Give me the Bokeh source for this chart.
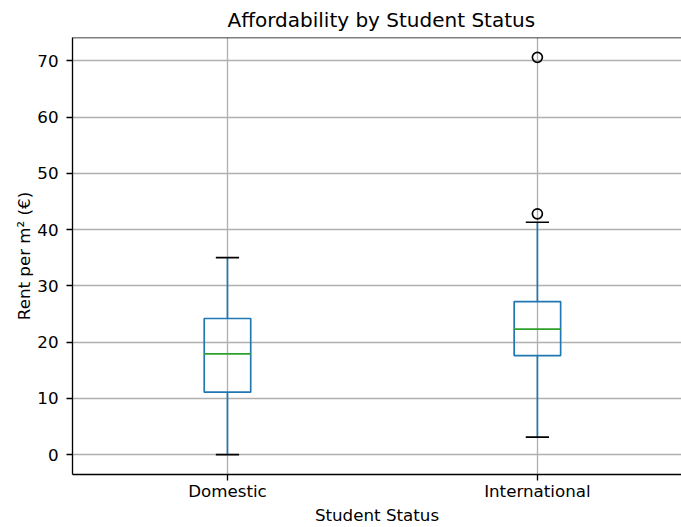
from bokeh.plotting import figure
from bokeh.models import Range1d, FixedTicker, ColumnDataSource, Span
from bokeh.embed import file_html
from bokeh.resources import INLINE

# ---- data ----
categories = ["Domestic", "International"]
positions = [1, 2]
q1 = [11.1, 17.6]
median = [17.9, 22.3]
q3 = [24.2, 27.2]
whisker_low = [0.0, 3.1]
whisker_high = [35.0, 41.3]
outlier_pos = [2, 2]
outlier_values = [70.6, 42.8]
y_ticks = [0, 10, 20, 30, 40, 50, 60, 70]

BOX_W = 0.15
CAP_W = 0.075
FONT = "DejaVu Sans"
BLUE = "#1f77b4"
GREEN = "#2ca02c"
LW = 1.67
THIN = 1.33

src = ColumnDataSource(dict(
    x=positions, q1=q1, med=median, q3=q3, lo=whisker_low, hi=whisker_high,
    left=[p - BOX_W / 2 for p in positions], right=[p + BOX_W / 2 for p in positions],
    cl=[p - CAP_W / 2 for p in positions], cr=[p + CAP_W / 2 for p in positions],
))

ymin = min(whisker_low + outlier_values)
ymax = max(whisker_high + outlier_values)
pad = 0.05 * (ymax - ymin)

p = figure(width=681, height=527, output_backend="svg", toolbar_location=None,
           x_range=Range1d(0.5, 2.465), y_range=Range1d(ymin - pad, ymax + pad),
           min_border_left=72, min_border_right=0, min_border_top=37, min_border_bottom=45)

p.title.text = "Affordability by Student Status"
p.title.align = "left"
p.title.offset = 155
p.title.standoff = 11
p.title.text_font = FONT
p.title.text_font_size = "20px"
p.title.text_font_style = "normal"
p.title.text_color = "black"

# frame: left/bottom from axis lines, top from a span; right edge lies outside the picture
p.outline_line_color = None
p.add_layout(Span(location=ymax + pad, dimension="width", line_color="black", line_width=THIN))

# whiskers
p.segment(x0="x", y0="q3", x1="x", y1="hi", source=src, line_color=BLUE, line_width=LW)
p.segment(x0="x", y0="lo", x1="x", y1="q1", source=src, line_color=BLUE, line_width=LW)
# caps
p.segment(x0="cl", y0="hi", x1="cr", y1="hi", source=src, line_color="black", line_width=LW)
p.segment(x0="cl", y0="lo", x1="cr", y1="lo", source=src, line_color="black", line_width=LW)
# boxes
p.quad(left="left", right="right", bottom="q1", top="q3", source=src,
       fill_color=None, line_color=BLUE, line_width=LW)
# medians
p.segment(x0="left", y0="med", x1="right", y1="med", source=src, line_color=GREEN, line_width=LW)
# outliers
p.scatter(x=outlier_pos, y=outlier_values, marker="circle", size=10,
          fill_color=None, line_color="black", line_width=LW)

# axes
p.xaxis.ticker = FixedTicker(ticks=positions)
p.xaxis.major_label_overrides = {pos: lab for pos, lab in zip(positions, categories)}
p.yaxis.ticker = FixedTicker(ticks=y_ticks)
p.xaxis.axis_label = "Student Status"
p.yaxis.axis_label = "Rent per m² (€)"

for ax in (p.xaxis[0], p.yaxis[0]):
    ax.axis_line_color = "black"
    ax.axis_line_width = THIN
    ax.major_tick_line_color = "black"
    ax.major_tick_line_width = THIN
    ax.major_tick_out = 6
    ax.major_tick_in = 0
    ax.minor_tick_line_color = None
    ax.major_label_text_font = FONT
    ax.major_label_text_font_size = "16.7px"
    ax.major_label_text_color = "black"
    ax.axis_label_text_font = FONT
    ax.axis_label_text_font_size = "16.7px"
    ax.axis_label_text_font_style = "normal"
    ax.axis_label_text_color = "black"

p.xaxis.major_label_standoff = 0
p.xaxis.axis_label_standoff = 1
p.yaxis.major_label_standoff = 8
p.yaxis.axis_label_standoff = 0

for g in (p.xgrid[0], p.ygrid[0]):
    g.grid_line_color = "#b0b0b0"
    g.grid_line_width = THIN

open("out.html", "w").write(file_html(p, INLINE))
